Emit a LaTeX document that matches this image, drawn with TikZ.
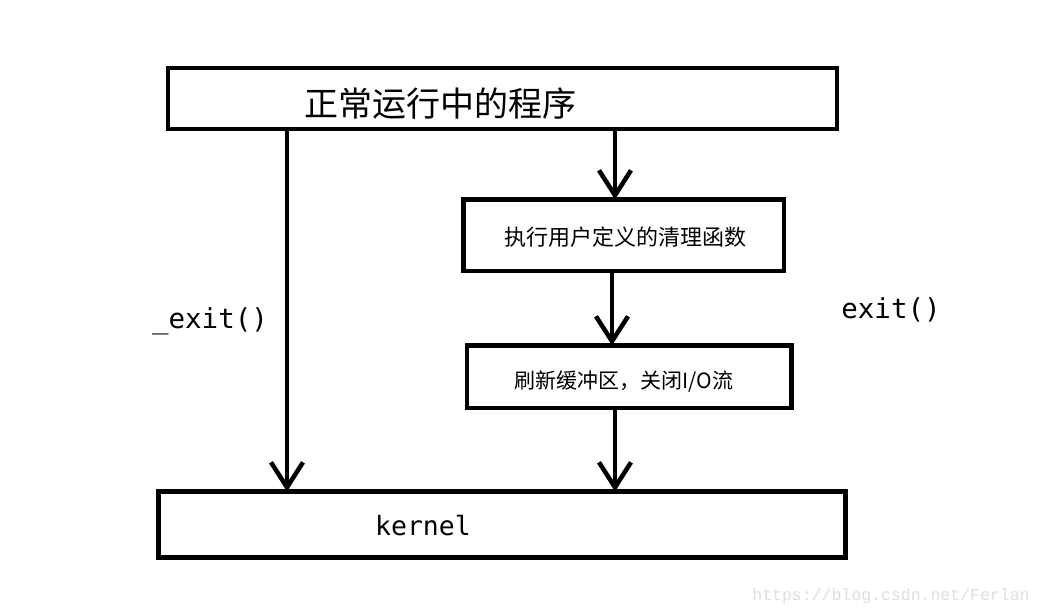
\documentclass[tikz,border=0pt]{standalone}
\usepackage{fontspec}
\usetikzlibrary{arrows.meta}
\newfontfamily\cjk{Noto Sans CJK SC}
\newfontfamily\monof{DejaVu Sans Mono}
\newfontfamily\wmf{Liberation Mono}
\begin{document}
\begin{tikzpicture}[x=1pt,y=-1pt,
  box/.style={draw=black,line width=4.5pt,rectangle,inner sep=0pt,outer sep=0pt},
  arr/.style={line width=4.5pt,-{Straight Barb[length=25pt,width=32pt,line width=4.5pt]}},
  lbl/.style={inner sep=0pt,font=\monof\fontsize{27.5}{27.5}\selectfont}
]
\useasboundingbox[fill=white] (0,0) rectangle (1042,613);
% boxes
\node[box,minimum width=669pt,minimum height=61pt] (top) at (502.5,98.5) {};
\node[box,minimum width=320.5pt,minimum height=71.5pt] (b2) at (623.75,235.25) {};
\node[box,minimum width=324.5pt,minimum height=62.5pt] (b3) at (629.25,376.75) {};
\node[box,minimum width=687pt,minimum height=66pt] (kernel) at (502,524.5) {};
% texts
\node[inner sep=0pt,font=\cjk\fontsize{34}{34}\selectfont] (ttop) at (440,104) {正常运行中的程序};
\node[inner sep=0pt,font=\cjk\fontsize{22}{22}\selectfont] (tb2) at (625,237) {执行用户定义的清理函数};
\node[inner sep=0pt,font=\cjk\fontsize{21}{21}\selectfont] (tb3) at (624,382) {刷新缓冲区，关闭I/O流};
\node[inner sep=0pt,font=\monof\fontsize{26.5}{26.5}\selectfont] (tk) at (423,526) {kernel};
\node[lbl] (l1) at (210,321) {\_exit()};
\node[lbl] (l2) at (891,310) {exit()};
% connectors
\coordinate (lx) at (287,0);
\coordinate (mx) at (615,0);
\coordinate (nx) at (612,0);
\draw[arr] (lx |- top.south) -- (lx |- kernel.north);
\draw[arr] (mx |- top.south) -- (mx |- b2.north);
\draw[arr] (nx |- b2.south) -- (nx |- b3.north);
\draw[arr] (mx |- b3.south) -- (mx |- kernel.north);
% watermark
\node[inner sep=0pt,text=black!13,font=\wmf\fontsize{16.5}{16.5}\selectfont] (wm) at (891,596) {https://blog.csdn.net/Ferlan};
\end{tikzpicture}
\end{document}
